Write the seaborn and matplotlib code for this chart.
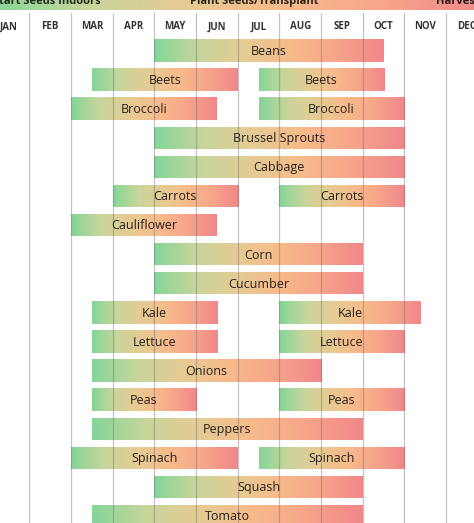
import numpy as np
import pandas as pd
import seaborn as sns
import matplotlib.pyplot as plt

# planting calendar data (months as 0=start of JAN ... 12=end of DEC)
months = ["JAN", "FEB", "MAR", "APR", "MAY", "JUN", "JUL", "AUG", "SEP", "OCT", "NOV", "DEC"]
crops = ["Beans", "Beets", "Broccoli", "Brussel Sprouts", "Cabbage", "Carrots", "Cauliflower",
         "Corn", "Cucumber", "Kale", "Lettuce", "Onions", "Peas", "Peppers", "Spinach",
         "Squash", "Tomato"]
start1 = [4, 2.5, 2, 4, 4, 3, 2, 4, 4, 2.5, 2.5, 2.5, 2.5, 2.5, 2, 4, 2.5]
end1 = [9.5, 6, 5.5, 10, 10, 6, 5.5, 9, 9, 5.5, 5.5, 8, 5, 9, 6, 9, 9]
start2 = [None, 6.5, 6.5, None, None, 7, None, None, None, 7, 7, None, 7, None, 6.5, None, None]
end2 = [None, 9.5, 10, None, None, 10, None, None, None, 10.4, 10, None, 10, None, 10, None, None]
stages = ["Start Seeds Indoors", "Plant Seeds/Transplant", "Harvest"]

gradient_colors = ["#84d699", "#c9d59c", "#e6cb93", "#f8ba8b", "#f7a48a", "#f1878b"]

sns.set_theme(style="white")
plt.rcParams["font.family"] = ["Open Sans", "DejaVu Sans"]

rows = []
for i, crop in enumerate(crops):
    rows.append((i, crop, start1[i], end1[i]))
    if start2[i] is not None:
        rows.append((i, crop, start2[i], end2[i]))
segments = pd.DataFrame(rows, columns=["row", "crop", "start", "end"])

cmap = sns.blend_palette(gradient_colors, as_cmap=True)
grad = np.linspace(0, 1, 256).reshape(1, -1)

fig = plt.figure(figsize=(4.74, 5.23), dpi=100)
ax = fig.add_axes([0, 0, 1, 1])
x0, x1 = 0.297, 11.67
y_top, y_bot = -1.735, 16.24
ax.axis("off")

# bars with left-to-right gradient
bars = ax.barh(segments["row"], segments["end"] - segments["start"], left=segments["start"],
               height=0.77, color="none", edgecolor="none", zorder=2)
for bar, (_, seg) in zip(bars, segments.iterrows()):
    y = bar.get_y()
    h = bar.get_height()
    im = ax.imshow(grad, cmap=cmap, aspect="auto", zorder=2,
                   extent=[seg["start"], seg["end"], y + h, y])
    im.set_clip_path(bar)
    ax.text((seg["start"] + seg["end"]) / 2, seg["row"] + 0.03, seg["crop"],
            ha="center", va="center", fontsize=9, color="#262220", zorder=4)

# month grid lines and labels
for m in range(1, 12):
    ax.plot([m, m], [-1.29, y_bot], color="#707070", alpha=0.42, lw=0.9, zorder=3)
for m, name in enumerate(months):
    ax.text(m + 0.5, -0.81, name, ha="center", va="center", fontsize=7,
            fontweight="bold", color="#333333")

# header legend band
ax.imshow(grad, cmap=cmap, aspect="auto", zorder=1,
          extent=[0.0, 12.0, -1.39, y_top - 0.05])
ax.set_xlim(x0, x1)
ax.set_ylim(y_bot, y_top)
ax.text(0.12, -1.6, stages[0], ha="left", va="baseline", fontsize=8, fontweight="bold", color="#1f2a1c")
ax.text(6.4, -1.6, stages[1], ha="center", va="baseline", fontsize=8, fontweight="bold", color="#2a2418")
ax.text(10.75, -1.6, stages[2], ha="left", va="baseline", fontsize=8, fontweight="bold", color="#2a1a18")

fig.savefig("out.png", dpi=100)
